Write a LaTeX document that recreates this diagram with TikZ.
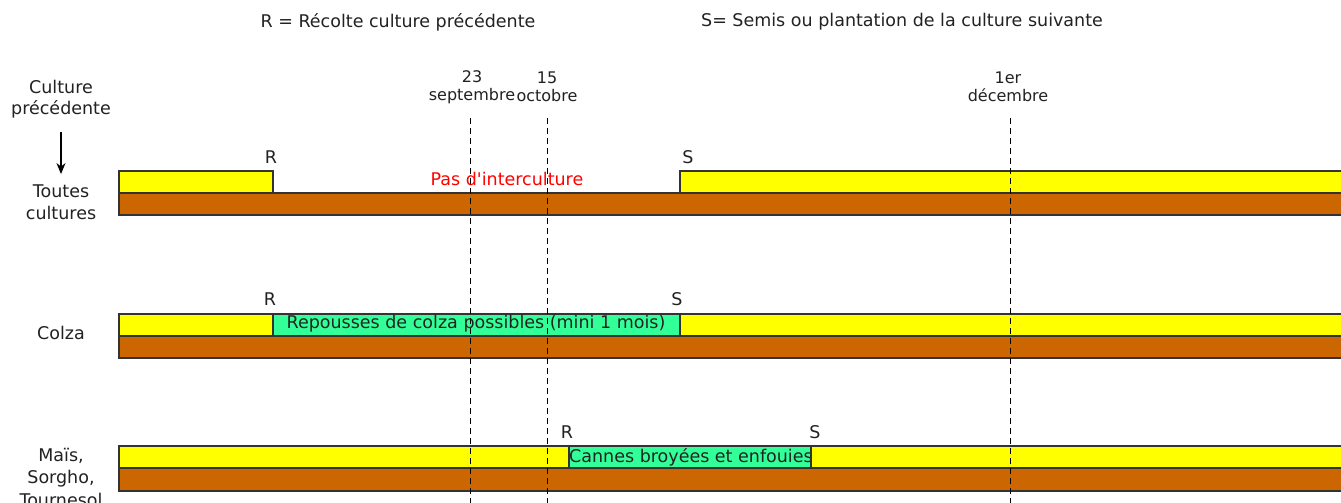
\documentclass[tikz,border=0pt]{standalone}
\usepackage{fontspec}
\usetikzlibrary{arrows.meta}
\setmainfont{DejaVu Sans}
\definecolor{baryellow}{RGB}{255,255,0}
\definecolor{barbrown}{RGB}{204,102,0}
\definecolor{bargreen}{RGB}{51,255,153}
\definecolor{txtgray}{RGB}{34,34,34}
\begin{document}
\begin{tikzpicture}[x=1pt,y=-1pt,
  lbl/.style={font=\fontsize{17.5}{21}\selectfont, text=txtgray, inner sep=0pt, align=center},
  small/.style={font=\fontsize{16}{18}\selectfont, text=txtgray, inner sep=0pt, align=center},
  ybar/.style={fill=baryellow, draw=black!80, line width=1.2pt},
  bbar/.style={fill=barbrown, draw=black!80, line width=1.2pt},
  gbar/.style={fill=bargreen, draw=black!80, line width=1.2pt},
  dateline/.style={draw=black, dashed, dash pattern=on 6pt off 4pt, line width=0.9pt}]
\useasboundingbox (0,0) rectangle (1341,503);
\clip (0,0) rectangle (1341,503);
\fill[white] (0,0) rectangle (1341,503);
% titles
\node[lbl] (tR) at (398,22) {R = Récolte culture précédente};
\node[lbl] (tS) at (902,22) {S= Semis ou plantation de la culture suivante};
% left labels
\node[lbl] (cp) at (61,99) {Culture\\précédente};
\node[lbl, font=\fontsize{17.5}{22.5}\selectfont] (tc) at (61,202) {Toutes\\cultures};
\node[lbl] (colza) at (61,333) {Colza};
\node[lbl, anchor=north, font=\fontsize{17.5}{22.5}\selectfont] (mais) at (61,448) {Maïs,\\Sorgho,\\Tournesol};
\draw[-{Stealth[length=11pt,width=9pt]}, line width=1.2pt] ([yshift=-14pt]cp.south) -- ([yshift=10pt]tc.north);
% row 1
\draw[bbar] (119,193) rectangle (1350,215);
\draw[ybar] (119,171) rectangle (273,193);
\draw[ybar] (680,171) rectangle (1350,193);
\node[lbl, text=red] (pas) at (507,179) {Pas d\textquotesingle interculture};
\node[lbl] (r1) at (271,157) {R};
\node[lbl] (s1) at (688,157) {S};
% row 2
\draw[bbar] (119,336) rectangle (1350,358);
\draw[ybar] (119,314) rectangle (1350,336);
\draw[gbar] (273,314) rectangle (680,336);
\node[lbl] (rep) at (476,324) {Repousses de colza possibles (mini 1 mois)};
\node[lbl] (r2) at (270,299) {R};
\node[lbl] (s2) at (677,299) {S};
% row 3
\draw[bbar] (119,468) rectangle (1350,491);
\draw[ybar] (119,446) rectangle (1350,468);
\draw[gbar] (569,446) rectangle (811,468);
\begin{scope}
\clip (569,446) rectangle (810,468);
\node[lbl, anchor=west] (can) at (569,457) {Cannes broyées et enfouies};
\end{scope}
\draw[draw=black!80, line width=1.2pt] (569,446) rectangle (811,468);
\node[lbl] (r3) at (567,432) {R};
\node[lbl] (s3) at (815,432) {S};
% dates
\node[small] (d1) at (472,87) {23\\septembre};
\node[small] (d2) at (547,87) {15\\octobre};
\node[small] (d3) at (1008,87) {1er\\décembre};
\coordinate (e1) at (470,505);
\coordinate (e2) at (547,505);
\coordinate (e3) at (1010,505);
\draw[dateline] (470,118) -- (e1);
\draw[dateline] (547,118) -- (e2);
\draw[dateline] (1010,118) -- (e3);
\end{tikzpicture}
\end{document}
